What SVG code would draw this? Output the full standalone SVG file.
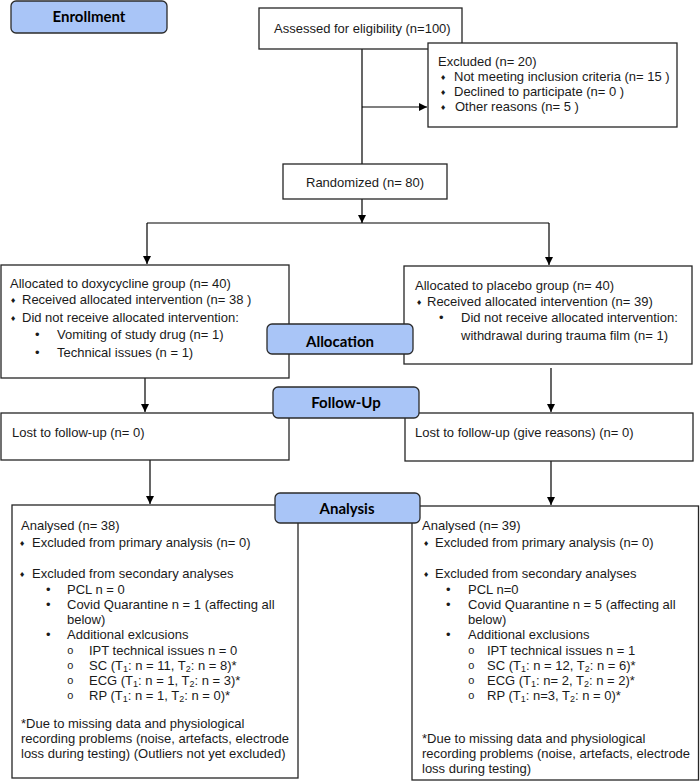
<svg xmlns="http://www.w3.org/2000/svg" width="700" height="782" viewBox="0 0 700 782">
<style>
.box{fill:#fff;stroke:#262626;stroke-width:1.3}
.lbl{fill:#a9c5f7;stroke:#2b2b2b;stroke-width:1.3}
.lt{font-family:Lato,"Open Sans","Liberation Sans",sans-serif;font-weight:bold;font-size:15px;fill:#000;text-anchor:middle}
.t{font-family:"Liberation Sans",Arial,sans-serif;font-size:13px;fill:#1a1a1a}
.d{font-family:"DejaVu Sans",sans-serif;font-size:7px;fill:#1a1a1a}
.b{font-family:"Liberation Sans",Arial,sans-serif;font-size:13px;fill:#1a1a1a}
.o{font-family:"Liberation Mono","Courier New",monospace;font-size:11px;fill:#1a1a1a}
.s{font-size:9px}
.ln{fill:none;stroke:#000;stroke-width:1.2}
</style>
<defs>
<marker id="ah" viewBox="0 0 10 10" refX="10" refY="5" markerWidth="8" markerHeight="8" markerUnits="userSpaceOnUse" orient="auto">
<path d="M0,0 L10,5 L0,10 z" fill="#000"/>
</marker>
</defs>

<g id="connectors">
<path class="ln" d="M362,49 V164"/>
<path class="ln" d="M362,107 H427" marker-end="url(#ah)"/>
<path class="ln" d="M362,199 V223" marker-end="url(#ah)"/>
<path class="ln" d="M147,223 H549"/>
<path class="ln" d="M147,223 V264" marker-end="url(#ah)"/>
<path class="ln" d="M549,223 V265" marker-end="url(#ah)"/>
<path class="ln" d="M145,373 V412" marker-end="url(#ah)"/>
<path class="ln" d="M551,368 V412" marker-end="url(#ah)"/>
<path class="ln" d="M150,460 V504" marker-end="url(#ah)"/>
<path class="ln" d="M551,461 V505" marker-end="url(#ah)"/>
</g>

<g id="assessed">
<rect class="box" x="259" y="8" width="203" height="41"/>
<text class="t" x="274" y="33">Assessed for eligibility (n=100)</text>
</g>

<g id="excluded">
<rect class="box" x="428" y="43" width="249" height="84"/>
<text class="t" x="438" y="66">Excluded (n= 20)</text>
<text class="d" x="440" y="80">♦</text>
<text class="t" x="454" y="81">Not meeting inclusion criteria (n= 15 )</text>
<text class="d" x="440" y="95">♦</text>
<text class="t" x="454" y="96">Declined to participate (n= 0 )</text>
<text class="d" x="440" y="110">♦</text>
<text class="t" x="455" y="111">Other reasons (n= 5 )</text>
</g>

<g id="randomized">
<rect class="box" x="283" y="164" width="164" height="35"/>
<text class="t" x="306" y="187">Randomized (n= 80)</text>
</g>

<g id="alloc-left">
<rect class="box" x="1" y="265" width="288" height="113"/>
<text class="t" x="10" y="288">Allocated to doxycycline group (n= 40)</text>
<text class="d" x="10" y="303">♦</text>
<text class="t" x="22" y="304">Received allocated intervention (n= 38  )</text>
<text class="d" x="10" y="321">♦</text>
<text class="t" x="22" y="322">Did not receive allocated intervention:</text>
<text class="b" x="35" y="339">•</text>
<text class="t" x="57" y="339">Vomiting of study drug (n= 1)</text>
<text class="b" x="35" y="357">•</text>
<text class="t" x="57" y="357">Technical issues (n = 1)</text>
</g>

<g id="alloc-right">
<rect class="box" x="404" y="266" width="288" height="98"/>
<text class="t" x="415" y="290">Allocated to placebo group (n= 40)</text>
<text class="d" x="416" y="305">♦</text>
<text class="t" x="427" y="306">Received allocated intervention (n= 39)</text>
<text class="b" x="439" y="322">•</text>
<text class="t" x="461" y="322">Did not receive allocated intervention:</text>
<text class="t" x="461" y="340">withdrawal during trauma film (n= 1)</text>
</g>

<g id="followup-left">
<rect class="box" x="1" y="413" width="288" height="47"/>
<text class="t" x="12" y="437">Lost to follow-up (n= 0)</text>
</g>

<g id="followup-right">
<rect class="box" x="405" y="413" width="288" height="48"/>
<text class="t" x="415" y="437">Lost to follow-up (give reasons) (n= 0)</text>
</g>

<g id="analysis-left">
<rect class="box" x="12" y="505" width="286" height="273"/>
<text class="t" x="21" y="530">Analysed (n= 38)</text>
<text class="d" x="19" y="546">♦</text>
<text class="t" x="32" y="547">Excluded from primary analysis (n= 0)</text>
<text class="d" x="19" y="577">♦</text>
<text class="t" x="32" y="578">Excluded from secondary analyses</text>
<text class="b" x="46" y="594">•</text>
<text class="t" x="67" y="594">PCL n = 0</text>
<text class="b" x="46" y="609">•</text>
<text class="t" x="67" y="609">Covid Quarantine n = 1 (affecting all</text>
<text class="t" x="67" y="624">below)</text>
<text class="b" x="46" y="639">•</text>
<text class="t" x="67" y="639">Additional exlcusions</text>
<text class="o" x="67" y="654">o</text>
<text class="t" x="89" y="655">IPT technical issues n = 0</text>
<text class="o" x="67" y="669">o</text>
<text class="t" x="89" y="670">SC (T<tspan class="s" dy="2">1</tspan><tspan dy="-2">: n = 11, T</tspan><tspan class="s" dy="2">2</tspan><tspan dy="-2">: n = 8)*</tspan></text>
<text class="o" x="67" y="684">o</text>
<text class="t" x="89" y="685">ECG (T<tspan class="s" dy="2">1</tspan><tspan dy="-2">: n = 1, T</tspan><tspan class="s" dy="2">2</tspan><tspan dy="-2">: n =  3)*</tspan></text>
<text class="o" x="67" y="699">o</text>
<text class="t" x="89" y="700">RP (T<tspan class="s" dy="2">1</tspan><tspan dy="-2">: n = 1, T</tspan><tspan class="s" dy="2">2</tspan><tspan dy="-2">: n = 0)*</tspan></text>
<text class="t" x="21" y="728">*Due to missing data and physiological</text>
<text class="t" x="21" y="743">recording problems (noise, artefacts, electrode</text>
<text class="t" x="21" y="758">loss during testing) (Outliers not yet excluded)</text>
</g>

<g id="analysis-right">
<rect class="box" x="412" y="506" width="286.5" height="274"/>
<text class="t" x="422" y="530">Analysed (n= 39)</text>
<text class="d" x="423" y="546">♦</text>
<text class="t" x="435" y="547">Excluded from primary analysis (n= 0)</text>
<text class="d" x="423" y="577">♦</text>
<text class="t" x="435" y="578">Excluded from secondary analyses</text>
<text class="b" x="446" y="594">•</text>
<text class="t" x="468" y="594">PCL n=0</text>
<text class="b" x="446" y="609">•</text>
<text class="t" x="468" y="609">Covid Quarantine n = 5 (affecting all</text>
<text class="t" x="468" y="624">below)</text>
<text class="b" x="446" y="639">•</text>
<text class="t" x="468" y="639">Additional exclusions</text>
<text class="o" x="468" y="654">o</text>
<text class="t" x="487" y="655">IPT technical issues n = 1</text>
<text class="o" x="468" y="669">o</text>
<text class="t" x="487" y="670">SC (T<tspan class="s" dy="2">1</tspan><tspan dy="-2">: n = 12, T</tspan><tspan class="s" dy="2">2</tspan><tspan dy="-2">: n = 6)*</tspan></text>
<text class="o" x="468" y="684">o</text>
<text class="t" x="487" y="685">ECG (T<tspan class="s" dy="2">1</tspan><tspan dy="-2">: n= 2, T</tspan><tspan class="s" dy="2">2</tspan><tspan dy="-2">: n = 2)*</tspan></text>
<text class="o" x="468" y="699">o</text>
<text class="t" x="487" y="700">RP (T<tspan class="s" dy="2">1</tspan><tspan dy="-2">: n=3, T</tspan><tspan class="s" dy="2">2</tspan><tspan dy="-2">: n = 0)*</tspan></text>
<text class="t" x="422" y="743">*Due to missing data and physiological</text>
<text class="t" x="422" y="758">recording problems (noise, artefacts, electrode</text>
<text class="t" x="422" y="773">loss during testing)</text>
</g>

<g id="label-enrollment">
<rect class="lbl" x="11" y="1" width="156" height="32" rx="5"/>
<text class="lt" x="89" y="22">Enrollment</text>
</g>
<g id="label-allocation">
<rect class="lbl" x="267" y="324" width="146" height="30" rx="5"/>
<text class="lt" x="340" y="347">Allocation</text>
</g>
<g id="label-followup">
<rect class="lbl" x="273" y="387" width="146" height="31" rx="5"/>
<text class="lt" x="346" y="408">Follow-Up</text>
</g>
<g id="label-analysis">
<rect class="lbl" x="275" y="493" width="145" height="30" rx="5"/>
<text class="lt" x="347" y="514">Analysis</text>
</g>
</svg>
